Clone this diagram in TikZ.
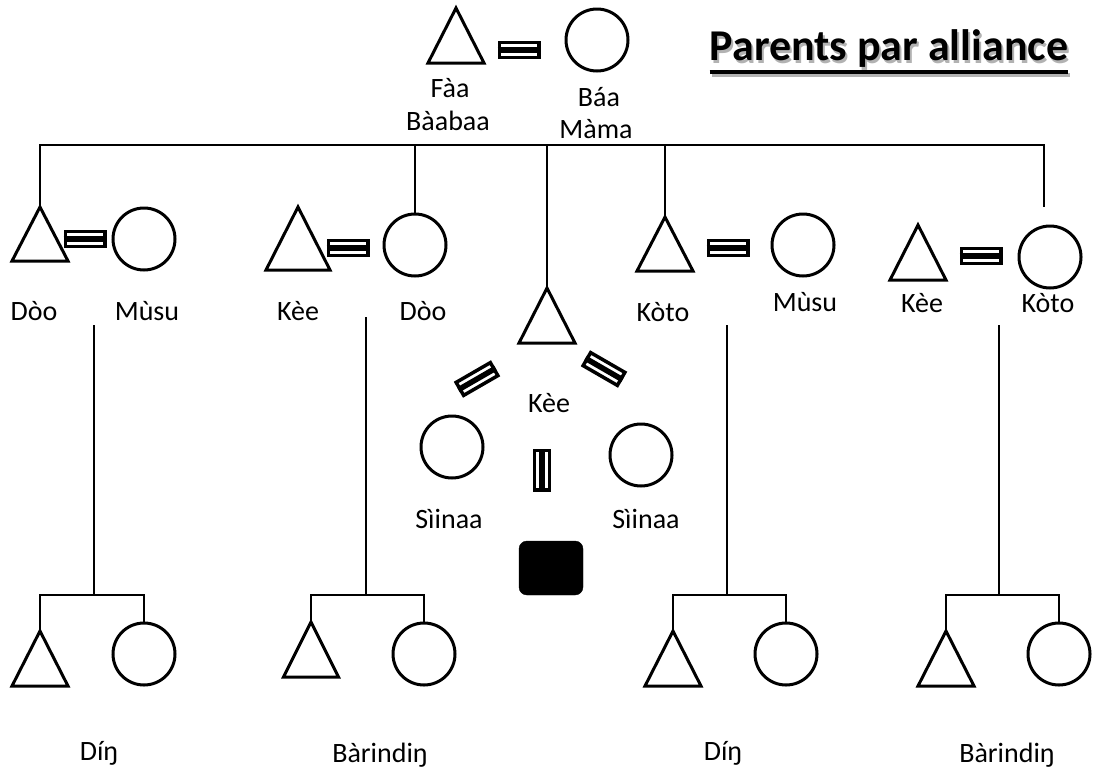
\documentclass[tikz,border=0pt]{standalone}
\usepackage{fontspec}
\setmainfont{Carlito}

\tikzstyle{link} = [line width=1.2pt]
\tikzstyle{kin} = [line width=3pt]
\tikzstyle{female} = [circle, draw, line width=3pt, minimum size=62pt, inner sep=0pt]
\tikzstyle{eqbox} = [draw, line width=3.5pt, minimum width=39.5pt, minimum height=15pt, inner sep=0pt]
\tikzstyle{eqbar} = [line width=5.5pt]
\tikzstyle{lbl} = [anchor=base, inner sep=0pt, font=\fontsize{28}{32}\selectfont]
\tikzstyle{headline} = [anchor=base, inner sep=0pt, font=\fontsize{44}{50}\selectfont\bfseries]

% male: name, apex x, apex y, half base, height
\newcommand{\kinmale}[5]{%
  \coordinate (#1) at (#2,#3);
  \draw[kin] (#1) -- ++(-#4,#5) -- ++(2*#4,0) -- cycle;}
% marriage sign: name, x, y, angle
\newcommand{\kineq}[4]{%
  \node[eqbox, rotate=#4] (#1) at (#2,#3) {};
  \draw[eqbar] (#1.west) -- (#1.east);}

\begin{document}
\begin{tikzpicture}[x=1pt, y=-1pt]
\useasboundingbox (0,0) rectangle (1094,774);

% title
\node[headline, text=black!30] (titleshadow) at (891,63) {Parents par alliance};
\draw[line width=4pt, black!30] ([yshift=-12pt]titleshadow.base west) -- ([yshift=-12pt]titleshadow.base east);
\node[headline] (title) at (889,60) {Parents par alliance};
\draw[line width=4pt] ([yshift=-12pt]title.base west) -- ([yshift=-12pt]title.base east);

% parents
\kinmale{faa}{456}{8}{28}{55}
\kineq{eqTop}{519}{50}{0}
\node[female] (baa) at (597,40) {};
\node[lbl] (lFaa) at (450,97) {Fàa};
\node[lbl] (lBaabaa) at (448,130) {Bàabaa};
\node[lbl] (lBaa) at (599,106) {Báa};
\node[lbl] (lMama) at (596,138) {Màma};

% siblings and spouses
\kinmale{dooA}{40}{207}{28}{54}
\kineq{eqA}{85}{239}{0}
\node[female] (musuA) at (144,239) {};
\kinmale{keeB}{298}{207}{32}{63}
\kineq{eqB}{348}{248}{0}
\node[female] (dooB) at (415,245) {};
\kinmale{keeC}{547}{288}{28}{55}
\kinmale{kotoD}{665}{217}{28}{54}
\kineq{eqD}{728}{248}{0}
\node[female] (musuD) at (803,245) {};
\kinmale{keeE}{918}{225}{28}{55}
\kineq{eqE}{981}{256}{0}
\node[female] (kotoE) at (1050,257) {};
\coordinate (kotoTop) at (1044,207);

\node[lbl] (lDooA) at (34,320) {Dòo};
\node[lbl] (lMusuA) at (147,320) {Mùsu};
\node[lbl] (lKeeB) at (298,320) {Kèe};
\node[lbl] (lDooB) at (423,320) {Dòo};
\node[lbl] (lKotoD) at (663,321) {Kòto};
\node[lbl] (lMusuD) at (805,311) {Mùsu};
\node[lbl] (lKeeE) at (922,312) {Kèe};
\node[lbl] (lKotoE) at (1048,312) {Kòto};

\coordinate (sibbar) at (0,145);
\draw[link] (dooA) |- (sibbar -| kotoTop) -- (kotoTop);
\draw[link] (dooB.north) -- (dooB.north |- sibbar);
\draw[link] (keeC) -- (keeC |- sibbar);
\draw[link] (kotoD) -- (kotoD |- sibbar);

% centre
\kineq{eqL}{477}{379}{30}
\kineq{eqR}{604}{369}{-30}
\kineq{eqV}{542}{470}{90}
\node[lbl] (lKeeC) at (549,412) {Kèe};
\node[female] (sinaaL) at (452,447) {};
\node[female] (sinaaR) at (641,455) {};
\node[lbl] (lSinaaL) at (449,528) {Sìinaa};
\node[lbl] (lSinaaR) at (646,528) {Sìinaa};
\node[draw, fill=black, rounded corners=8pt, minimum width=64pt, minimum height=54pt] (ego) at (551,568) {};

% children
\kinmale{dinA}{40}{631}{28}{55}
\node[female] (dinB) at (144,654) {};
\kinmale{barA}{311}{622}{27.5}{55}
\node[female] (barB) at (424,654) {};
\kinmale{dinC}{673}{631}{28}{55}
\node[female] (dinD) at (786,654) {};
\kinmale{barC}{946}{631}{28}{55}
\node[female] (barD) at (1059,654) {};

\coordinate (stemA) at (94,325);   \coordinate (forkA) at (94,595);
\coordinate (stemB) at (366,317);  \coordinate (forkB) at (366,595);
\coordinate (stemC) at (727,325);  \coordinate (forkC) at (727,595);
\coordinate (stemD) at (999,325);  \coordinate (forkD) at (999,595);
\draw[link] (stemA) -- (forkA) (dinA) |- (forkA) -| (dinB.north);
\draw[link] (stemB) -- (forkB) (barA) |- (forkB) -| (barB.north);
\draw[link] (stemC) -- (forkC) (dinC) |- (forkC) -| (dinD.north);
\draw[link] (stemD) -- (forkD) (barC) |- (forkD) -| (barD.north);

\node[lbl] (lDinA) at (99,760) {Díŋ};
\node[lbl] (lBarA) at (380,762) {Bàrindiŋ};
\node[lbl] (lDinC) at (723,760) {Díŋ};
\node[lbl] (lBarC) at (1007,762) {Bàrindiŋ};

\end{tikzpicture}
\end{document}
